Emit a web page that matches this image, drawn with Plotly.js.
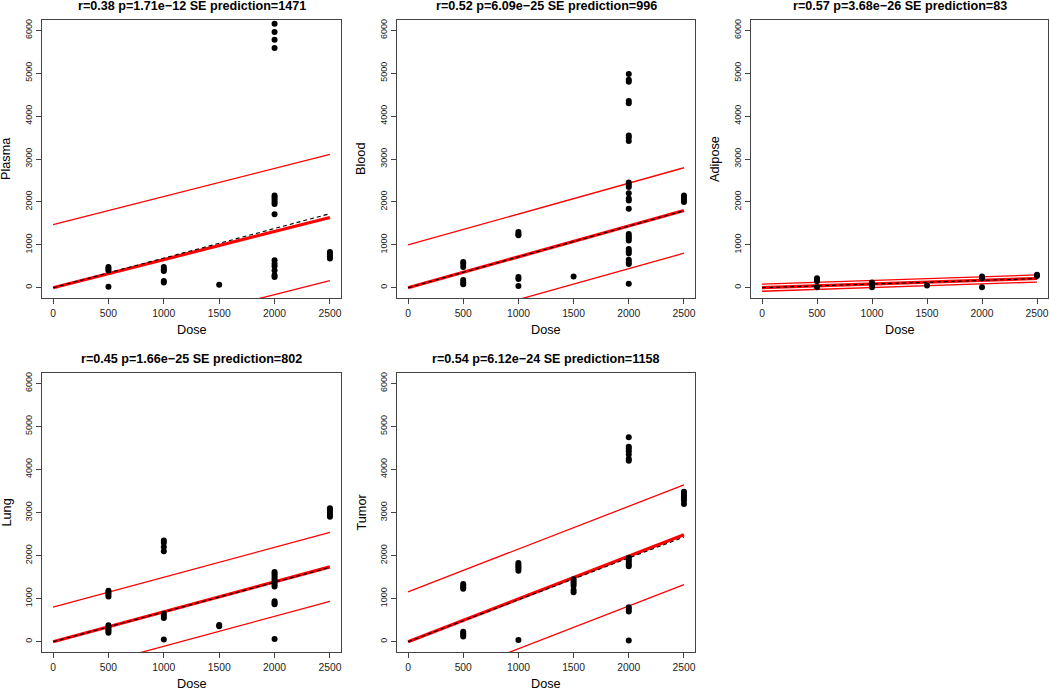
<!DOCTYPE html>
<html>
<head>
<meta charset="utf-8">
<script src="https://cdn.plot.ly/plotly-3.0.1.min.js"></script>
<style>html,body{margin:0;padding:0;background:#fff;}#chart{width:1050px;height:691px;}</style>
</head>
<body>
<div id="chart"></div>
<script>
// ---- data ----
const doseLevels = [500, 1000, 1500, 2000, 2500];

const tissues = ["Plasma", "Blood", "Adipose", "Lung", "Tumor"];

// concentrations grouped by dose level (500, 1000, 1500, 2000, 2500)
const plasma = [
  [480, 440, 400, 20],
  [480, 430, 390, 155, 120],
  [70],
  [6155, 5960, 5780, 5590, 2150, 2100, 2050, 2000, 1950, 1710, 640, 560, 500, 400, 290, 250],
  [830, 780, 730, 680]
];
const blood = [
  [600, 560, 480, 180, 130, 80],
  [1300, 1250, 1220, 250, 200, 40],
  [260],
  [4980, 4850, 4800, 4350, 4300, 3550, 3500, 3420, 2450, 2400, 2350, 2200, 2080, 2030, 1840, 1250, 1200, 1150, 1100, 900, 850, 800, 650, 600, 550, 90],
  [2150, 2100, 2050, 2000]
];
const adipose = [
  [220, 190, 150, 10],
  [120, 60, 10],
  [50],
  [260, 220, 10],
  [300, 270]
];
const lung = [
  [1180, 1140, 1100, 1050, 380, 330, 290, 250, 210],
  [2350, 2300, 2200, 2100, 650, 600, 550, 50],
  [390, 360],
  [1620, 1580, 1530, 1480, 1430, 1380, 1330, 1280, 940, 900, 870, 60],
  [3100, 3050, 3000, 2950, 2900]
];
const tumor = [
  [1340, 1300, 1260, 1230, 230, 200, 160, 120],
  [1830, 1780, 1740, 1700, 1650, 40],
  [1450, 1400, 1350, 1300, 1200, 1150],
  [4750, 4530, 4480, 4420, 4350, 4250, 4200, 1950, 1900, 1850, 1800, 1750, 800, 750, 700, 30],
  [3480, 3430, 3380, 3330, 3280, 3200]
];

// regression summaries
const fitSlope   = [0.655, 0.72, 0.086, 0.695, 0.993];   // red thick line (through origin)
const altSlope   = [0.69, 0.718, 0.085, 0.69, 0.972];    // black dashed line
const sePred     = [1471, 996, 83, 802, 1158];
const rValues    = ["0.38", "0.52", "0.57", "0.45", "0.54"];
const pValues    = ["1.71e\u221212", "6.09e\u221225", "3.68e\u221226", "1.66e\u221225", "6.12e\u221224"];

const xTicks = [0, 500, 1000, 1500, 2000, 2500];
const yTicks = [0, 1000, 2000, 3000, 4000, 5000, 6000];
const doseSpan = [0, 2500];

// ---- layout geometry (pixels) ----
const W = 1050, H = 691;
const boxes = [
  {l: 42,  r: 341,  t: 20,  b: 298},
  {l: 397, r: 695,  t: 20,  b: 298},
  {l: 751, r: 1048, t: 20,  b: 298},
  {l: 42,  r: 341,  t: 373, b: 652},
  {l: 397, r: 695,  t: 373, b: 652}
];

const allData = [plasma, blood, adipose, lung, tumor];
const FONT = "Liberation Sans, Arial, Helvetica, sans-serif";

const traces = [];
const layout = {
  width: W, height: H, autosize: false,
  margin: {l: 0, r: 0, t: 0, b: 0},
  paper_bgcolor: "#fff", plot_bgcolor: "#fff",
  showlegend: false,
  font: {family: FONT, color: "#000"},
  annotations: [],
  shapes: []
};

allData.forEach((groups, i) => {
  const n = i + 1;
  const xa = n === 1 ? "x" : "x" + n;
  const ya = n === 1 ? "y" : "y" + n;
  const bx = boxes[i];

  const xs = [], ys = [];
  groups.forEach((vals, g) => vals.forEach(v => { xs.push(doseLevels[g]); ys.push(v); }));

  const fitY = doseSpan.map(d => fitSlope[i] * d);
  const altY = doseSpan.map(d => altSlope[i] * d);

  // prediction bounds (fit +/- SE), drawn on the panel's own axes and clipped to it
  [1, -1].forEach(sgn => {
    layout.shapes.push({
      type: "line", xref: xa, yref: ya, layer: "below",
      x0: doseSpan[0], y0: fitY[0] + sgn * sePred[i],
      x1: doseSpan[1], y1: fitY[1] + sgn * sePred[i],
      line: {color: "#ff0000", width: 1.3}
    });
  });

  traces.push({x: doseSpan, y: fitY, xaxis: xa, yaxis: ya, type: "scatter", mode: "lines",
    line: {color: "#ff0000", width: 3.2}, hoverinfo: "skip"});
  traces.push({x: doseSpan, y: altY, xaxis: xa, yaxis: ya, type: "scatter", mode: "lines",
    line: {color: "#000", width: 1.1, dash: "4px,3px"}, hoverinfo: "skip"});
  traces.push({x: xs, y: ys, xaxis: xa, yaxis: ya, type: "scatter", mode: "markers",
    marker: {color: "#000", size: 6}, hoverinfo: "skip"});

  const common = {
    showgrid: false, zeroline: false, showline: true, mirror: true,
    linecolor: "#444", linewidth: 1.3, ticks: "outside", ticklen: 5,
    tickcolor: "#444", tickwidth: 1, fixedrange: true
  };
  layout["xaxis" + (n === 1 ? "" : n)] = Object.assign({}, common, {
    domain: [bx.l / W, bx.r / W], anchor: ya, range: [-100, 2600],
    tickmode: "array", tickvals: xTicks, ticktext: xTicks.map(String),
    tickfont: {family: FONT, size: 10.3, color: "#222"}
  });
  layout["yaxis" + (n === 1 ? "" : n)] = Object.assign({}, common, {
    domain: [1 - bx.b / H, 1 - bx.t / H], anchor: xa, range: [-240, 6240],
    tickmode: "array", tickvals: yTicks, ticktext: yTicks.map(String),
    tickangle: -90, tickfont: {family: FONT, size: 9, color: "#222"}
  });

  layout.annotations.push({
    xref: "paper", yref: "paper", x: (bx.l + bx.r) / 2 / W, y: 1 - (bx.t - 14) / H,
    xanchor: "center", yanchor: "middle", showarrow: false,
    text: "<b>r=" + rValues[i] + " p=" + pValues[i] + " SE prediction=" + sePred[i] + "</b>",
    font: {family: FONT, size: 12.6, color: "#000"}
  });
  layout.annotations.push({
    xref: "paper", yref: "paper", x: (bx.l + bx.r) / 2 / W, y: 1 - (bx.b + 32) / H,
    xanchor: "center", yanchor: "middle", showarrow: false,
    text: "Dose", font: {family: FONT, size: 12.7, color: "#000"}
  });
  layout.annotations.push({
    xref: "paper", yref: "paper", x: (bx.l - 36) / W, y: 1 - (bx.t + bx.b) / 2 / H,
    xanchor: "center", yanchor: "middle", showarrow: false, textangle: -90,
    text: tissues[i], font: {family: FONT, size: 12.7, color: "#000"}
  });
});

Plotly.newPlot("chart", traces, layout, {staticPlot: true, displayModeBar: false});
</script>
</body>
</html>
